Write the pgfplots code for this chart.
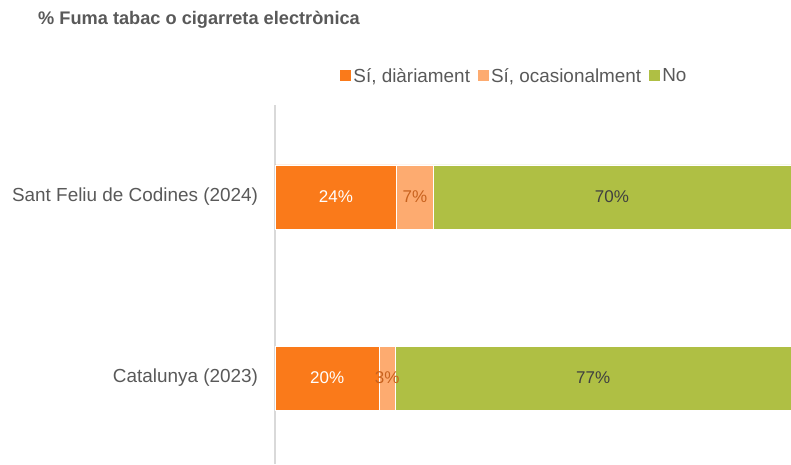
\documentclass[border=0pt]{standalone}
\usepackage{pgfplots}
\pgfplotsset{compat=1.18}
\usepackage{fontspec}
\setmainfont{Liberation Sans}
\definecolor{dorange}{HTML}{FA7A1A}
\definecolor{lorange}{HTML}{FDAB70}
\definecolor{lgreen}{HTML}{AFBF44}
\definecolor{txtgray}{HTML}{595959}
\definecolor{lbldark}{HTML}{404040}
\definecolor{lblorange}{HTML}{C8621E}
\definecolor{axgray}{HTML}{D9D9D9}
\pgfplotsset{
  geom/.style={at={(275pt,0pt)}, anchor=south west,
    scale only axis, width=516pt, height=359pt,
    xmin=0, xmax=100, ymin=-0.475, ymax=1.508, clip=false},
}
\begin{document}
\begin{tikzpicture}
\path[use as bounding box] (0pt,0pt) rectangle (791pt,464pt);
\begin{axis}[
  geom,
  xbar stacked, bar width=64pt,
  axis x line=none, axis y line*=left,
  y axis line style={draw=axgray, line width=1.5pt, -},
  ytick={0,1}, yticklabels={Catalunya (2023), Sant Feliu de Codines (2024)},
  major tick length=0pt,
  yticklabel style={font=\fontsize{18.9}{22}\selectfont, text=txtgray, xshift=-13.5pt},
  legend style={at={(0.464,1.081)}, anchor=center, draw=none, fill=none,
    font=\fontsize{18.9}{22}\selectfont, text=txtgray,
    /tikz/every even column/.append style={column sep=6pt},
    nodes={inner xsep=2pt}},
  legend columns=3,
  legend cell align=left,
  legend image code/.code={\fill[#1, draw=none] (0pt,-5.5pt) rectangle (11pt,5.5pt);},
]
\addplot[fill=dorange, draw=white, line width=0.75pt] coordinates {(20.2,0) (23.6,1)};
\addplot[fill=lorange, draw=white, line width=0.75pt] coordinates {(3.1,0) (7.0,1)};
\addplot[fill=lgreen, draw=white, line width=0.75pt] coordinates {(76.7,0) (69.4,1)};
\legend{{Sí, diàriament},{Sí, ocasionalment},No}
\end{axis}
\begin{axis}[geom, axis lines=none, ticks=none]
\addplot[only marks, mark=none, nodes near coords, point meta=explicit symbolic,
  nodes near coords style={text=white, anchor=center, font=\fontsize{17}{20}\selectfont}]
  coordinates {(10.1,0) [20\%] (11.8,1) [24\%]};
\addplot[only marks, mark=none, nodes near coords, point meta=explicit symbolic,
  nodes near coords style={text=lblorange, anchor=center, font=\fontsize{17}{20}\selectfont}]
  coordinates {(21.75,0) [3\%] (27.1,1) [7\%]};
\addplot[only marks, mark=none, nodes near coords, point meta=explicit symbolic,
  nodes near coords style={text=lbldark, anchor=center, font=\fontsize{17}{20}\selectfont}]
  coordinates {(61.65,0) [77\%] (65.3,1) [70\%]};
\end{axis}
\node[anchor=west, inner sep=0pt, font=\bfseries\fontsize{18.2}{22}\selectfont, text=txtgray] at (38pt,444pt) {\% Fuma tabac o cigarreta electrònica};
\end{tikzpicture}
\end{document}
